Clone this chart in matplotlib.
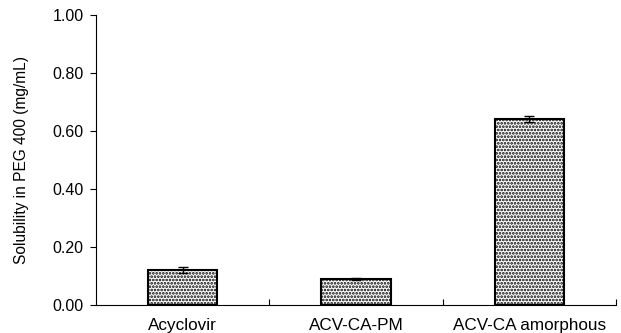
import matplotlib.pyplot as plt
from matplotlib.ticker import FixedLocator

plt.rcParams['font.family'] = ['Liberation Sans', 'DejaVu Sans']
plt.rcParams['hatch.linewidth'] = 1.3

# Data
samples = ['Acyclovir', 'ACV-CA-PM', 'ACV-CA amorphous']
solubility = [0.12, 0.09, 0.641]
sd = [0.010, 0.002, 0.011]

fig = plt.figure(figsize=(6.21, 3.33), dpi=100)
ax = fig.add_axes([0.1546, 0.084, 0.8374, 0.871])

x = range(len(samples))
ax.bar(x, solubility, width=0.4, color='white', edgecolor='black',
       linewidth=1.5, hatch='.....', zorder=2)
ax.errorbar(x, solubility, yerr=sd, fmt='none', ecolor='black',
            elinewidth=1, capsize=3.5, capthick=1, zorder=3)

ax.set_xlim(-0.5, 2.5)
ax.set_ylim(0, 1.0)
yt = [0, 0.2, 0.4, 0.6, 0.8, 1.0]
ax.set_yticks(yt)
ax.set_yticklabels([f'{v:.2f}' for v in yt])
ax.set_xticks(list(x))
ax.set_xticklabels(samples)
ax.xaxis.set_minor_locator(FixedLocator([0.5, 1.5, 2.5]))
ax.tick_params(axis='x', which='major', length=0, pad=9, labelsize=12.3)
ax.tick_params(axis='x', which='minor', direction='in', length=4, width=0.8)
ax.tick_params(axis='y', direction='out', length=4, width=0.8, pad=5, labelsize=11.5)

for s in ['top', 'right']:
    ax.spines[s].set_visible(False)
for s in ['left', 'bottom']:
    ax.spines[s].set_linewidth(0.8)

ax.set_ylabel('Solubility in PEG 400 (mg/mL)', fontsize=11.2, labelpad=17)

plt.savefig('out.png', dpi=100)
